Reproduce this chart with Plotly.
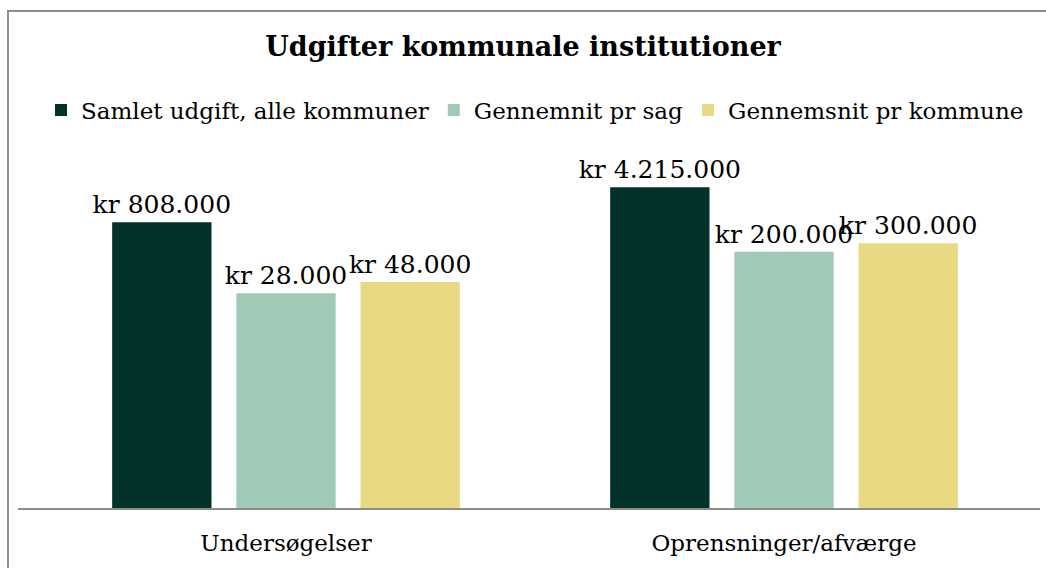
import plotly.graph_objects as go

categories = ["Undersøgelser", "Oprensninger/afværge"]
series_names = ["Samlet udgift, alle kommuner", "Gennemnit pr sag", "Gennemsnit pr kommune"]
samlet = [808000, 4215000]
pr_sag = [28000, 200000]
pr_kommune = [48000, 300000]
colors = ["#02322A", "#A0C9B6", "#E8D983"]

def fmt(v):
    return "kr " + f"{v:,}".replace(",", ".")

FONT = "DejaVu Serif"
fig = go.Figure()
for name, vals, col in zip(series_names, [samlet, pr_sag, pr_kommune], colors):
    fig.add_trace(go.Bar(
        x=categories, y=vals, name=name, marker=dict(color=col, line=dict(width=0)),
        text=[fmt(v) for v in vals], textposition="outside", constraintext="none",
        cliponaxis=False, textfont=dict(family=FONT, size=25, color="#000"),
    ))

W, H = 1046, 568
L, R, T, B = 37, 13, 169, 58
pw = W - L - R
ph = H - T - B
def px(x):
    return (x - L) / pw
def py(y):
    return (H - B - y) / ph

fig.update_layout(
    width=W, height=H, margin=dict(l=L, r=R, t=T, b=B, autoexpand=False),
    paper_bgcolor="white", plot_bgcolor="white",
    barmode="group", bargap=0.252, bargroupgap=0.2,
    font=dict(family=FONT, color="#000"),
    title=dict(text="<b>Udgifter kommunale institutioner</b>", x=0.5, xanchor="center",
               y=1 - 47 / H, yanchor="middle", font=dict(size=27, family=FONT)),
    legend=dict(orientation="h", x=0.5, xanchor="center", y=py(110), yanchor="middle",
                font=dict(size=23, family=FONT), itemwidth=30, bgcolor="rgba(0,0,0,0)"),
    xaxis=dict(showline=False, ticks="outside", ticklen=12, tickcolor="rgba(0,0,0,0)",
               tickfont=dict(size=23, family=FONT), showgrid=False, automargin=False),
    yaxis=dict(type="log", range=[0, 7], visible=False, showgrid=False, automargin=False),
    showlegend=True,
)
fig.add_shape(type="rect", xref="paper", yref="paper", x0=px(8), x1=px(1050), y0=py(575), y1=py(11),
              line=dict(color="#8C8C8C", width=2), fillcolor="rgba(0,0,0,0)", layer="below")
fig.add_shape(type="line", xref="paper", yref="paper", x0=px(18), x1=px(1040), y0=py(509), y1=py(509),
              line=dict(color="#8C8C8C", width=2))
fig.write_html("out.html", config={"displayModeBar": False},
               post_script="document.body.style.margin='0';")
